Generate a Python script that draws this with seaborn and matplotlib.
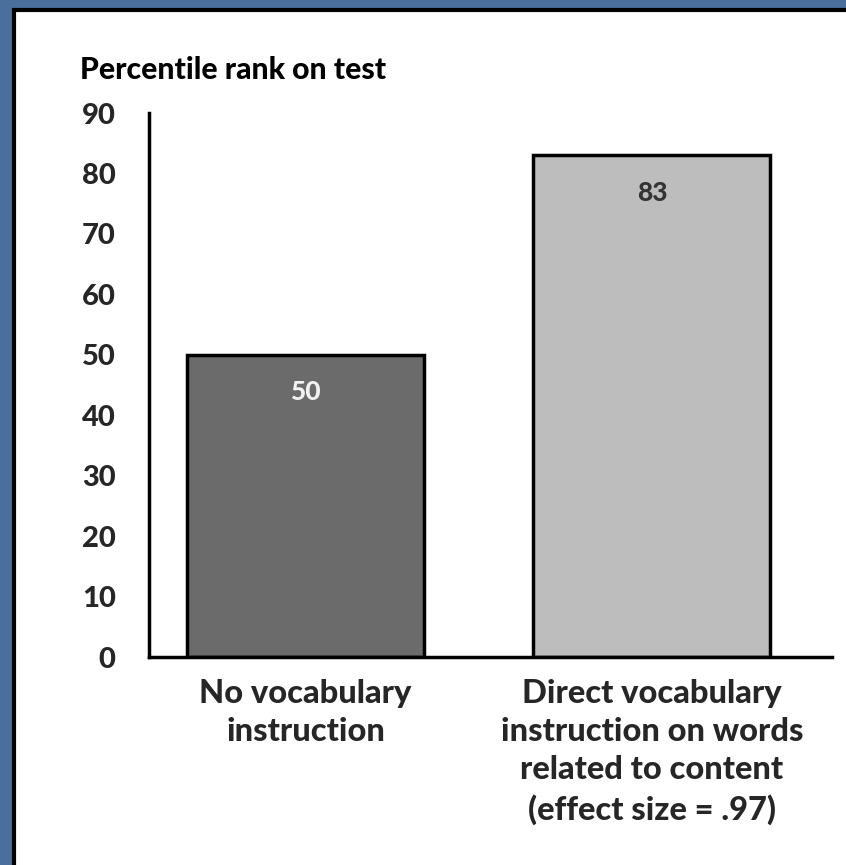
import matplotlib
matplotlib.use("Agg")
import matplotlib.pyplot as plt
import seaborn as sns
import pandas as pd
from matplotlib.patches import Rectangle

categories = ["No vocabulary\ninstruction",
              "Direct vocabulary\ninstruction on words\nrelated to content\n(effect size = .97)"]
values = [50, 83]
bar_colors = ["#6b6b6b", "#bdbdbd"]
value_label_colors = ["#f2f2f2", "#333333"]
yticks = [0, 10, 20, 30, 40, 50, 60, 70, 80, 90]
ylabel = "Percentile rank on test"

sns.set_theme(style="white")
plt.rcParams['font.family'] = ['Lato', 'DejaVu Sans']
WEIGHT = "black"

W, H = 846, 865
fig = plt.figure(figsize=(W / 100, H / 100), dpi=100)
fig.patch.set_facecolor("#4a6f9c")

# white panel with black border
panel = Rectangle((14 / W, -0.01), 1.0, 1 - 10 / H + 0.01, transform=fig.transFigure,
                  facecolor="white", edgecolor="black", linewidth=3, zorder=-5)
fig.add_artist(panel)

ax = fig.add_axes([149 / W, 1 - 657 / H, (832 - 149) / W, (657 - 113) / H])
ax.set_zorder(1)
ax.set_facecolor("none")

df = pd.DataFrame({"cat": categories, "val": values})
sns.barplot(data=df, x="cat", y="val", hue="cat", palette=bar_colors, legend=False,
            width=0.684, edgecolor="black", linewidth=2.5, saturation=1, ax=ax)

ax.set_xlim(-0.452, 1.52)
ax.set_ylim(0, 90)
ax.set_yticks(yticks)
ax.set_yticklabels([str(t) for t in yticks], fontsize=21, fontweight=WEIGHT)
ax.tick_params(axis="y", length=0, pad=24)
ax.tick_params(axis="x", length=0, pad=16)
for lab in ax.get_xticklabels():
    lab.set_fontsize(23.5)
    lab.set_fontweight(WEIGHT)
    lab.set_linespacing(1.38)
    lab.set_verticalalignment("top")
ax.set_xlabel("")
ax.set_ylabel("")

for s in ["top", "right"]:
    ax.spines[s].set_visible(False)
for s in ["left", "bottom"]:
    ax.spines[s].set_color("black")
    ax.spines[s].set_linewidth(2.5)

for i, (v, c) in enumerate(zip(values, value_label_colors)):
    ax.annotate(str(v), (i, v), xytext=(0, -27), textcoords="offset points",
                ha="center", va="center", fontsize=19, fontweight=WEIGHT, color=c)

fig.text(80 / W, 1 - 70 / H, ylabel, fontsize=21.7, fontweight=WEIGHT,
         ha="left", va="center", color="black")

fig.savefig("out.png", dpi=100, facecolor=fig.get_facecolor())
